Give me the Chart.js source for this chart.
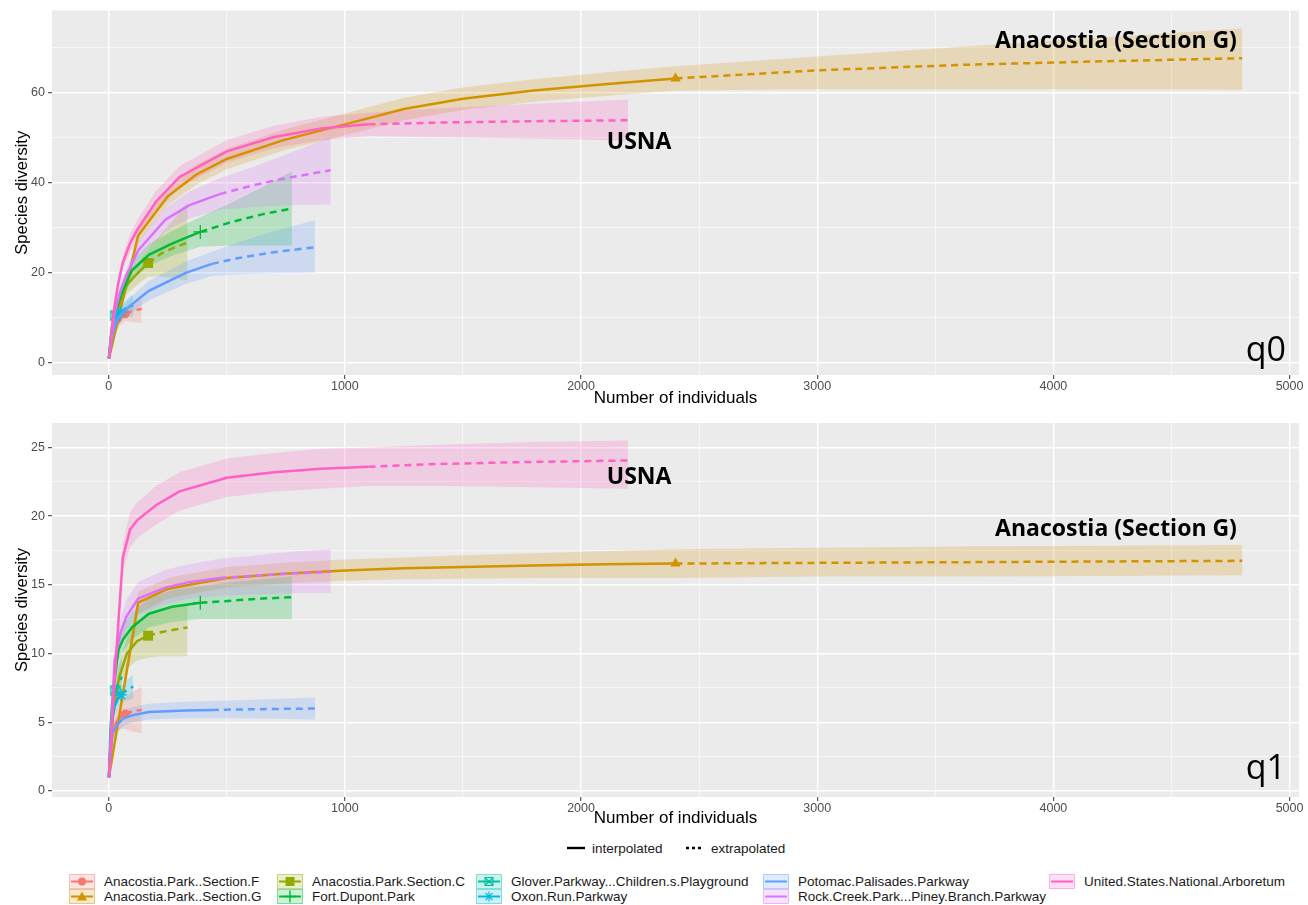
<!DOCTYPE html>
<html><head><meta charset="utf-8">
<script src="https://cdn.jsdelivr.net/npm/chart.js@4/dist/chart.umd.min.js"></script>
<style>
html,body{margin:0;padding:0;background:#fff;}
body{width:1308px;height:905px;position:relative;overflow:hidden;font-family:"Liberation Sans",Arial,sans-serif;}
#cv0{position:absolute;left:0;top:0;}
#cv1{position:absolute;left:0;top:410px;}
.lt{position:absolute;top:840px;height:16px;display:flex;align-items:center;font-size:13.5px;color:#1a1a1a;}
.lg{position:absolute;height:15px;display:flex;align-items:center;font-size:13.5px;color:#1a1a1a;white-space:nowrap;}
.lg svg{margin-right:9px;}
</style>
</head><body>
<canvas id="cv0" width="1308" height="410"></canvas>
<canvas id="cv1" width="1308" height="420"></canvas>
<div id="legend"></div>
<script>
// ---------------- data ----------------
const groupNames = ['Anacostia.Park..Section.F','Anacostia.Park..Section.G','Anacostia.Park.Section.C','Fort.Dupont.Park','Glover.Parkway...Children.s.Playground','Oxon.Run.Parkway','Potomac.Palisades.Parkway','Rock.Creek.Park...Piney.Branch.Parkway','United.States.National.Arboretum'];
const refSizes = [70, 2400, 167, 388, 28, 52, 437, 470, 1100];

const anaFX = [1, 15, 30, 50, 70, 100, 140];
const anaFQ0 = [1, 5.5, 8, 9.8, 10.9, 11.5, 12.0];
const anaFQ0Lo = [1, 4.5, 6.8, 8.4, 9.3, 9.1, 8.9];
const anaFQ0Hi = [1, 6.5, 9.2, 11.2, 12.5, 13.3, 14.2];
const anaFQ1 = [1, 4, 4.9, 5.4, 5.6, 5.8, 5.9];
const anaFQ1Lo = [1, 3.3, 4.1, 4.5, 4.5, 4.3, 4.2];
const anaFQ1Hi = [1, 4.8, 5.8, 6.4, 6.8, 7.2, 7.6];

const anaGX = [1, 125, 250, 370, 500, 740, 1000, 1250, 1500, 1800, 2100, 2400, 3000, 3600, 4200, 4800];
const anaGQ0 = [1, 28.3, 37, 41.8, 45.3, 49.5, 53.0, 56.4, 58.7, 60.5, 61.9, 63.2, 65.0, 66.2, 67.0, 67.7];
const anaGQ0Lo = [1, 26.7, 35, 39.6, 43.0, 47.2, 50.6, 53.9, 56.2, 58, 59.3, 60.5, 60.8, 60.8, 60.8, 60.7];
const anaGQ0Hi = [1, 29.9, 39, 44.0, 47.6, 51.8, 55.4, 58.9, 61.2, 63, 64.5, 65.9, 68.1, 70.2, 72.3, 74.3];
const anaGQ1 = [1, 13.7, 14.7, 15.1, 15.5, 15.8, 16.05, 16.2, 16.3, 16.4, 16.5, 16.55, 16.6, 16.65, 16.7, 16.75];
const anaGQ1Lo = [1, 12.9, 14, 14.4, 14.8, 15.1, 15.3, 15.4, 15.45, 15.5, 15.5, 15.5, 15.6, 15.6, 15.65, 15.7];
const anaGQ1Hi = [1, 14.5, 15.5, 15.9, 16.3, 16.6, 16.85, 17.0, 17.15, 17.3, 17.45, 17.6, 17.7, 17.8, 17.85, 17.9];

const anaCX = [1, 20, 45, 77, 120, 167, 220, 280, 334];
const anaCQ0 = [1, 8, 13, 17.3, 19.8, 22.2, 24.2, 25.7, 26.7];
const anaCQ0Lo = [1, 7, 11.5, 15.3, 17.3, 19.2, 19.2, 18.8, 18.3];
const anaCQ0Hi = [1, 9, 14.5, 19.3, 22.3, 25.2, 28.5, 32.2, 35.8];
const anaCQ1 = [1, 6, 8.3, 10.0, 10.9, 11.3, 11.55, 11.75, 11.9];
const anaCQ1Lo = [1, 5.3, 7.3, 8.9, 9.5, 9.7, 9.8, 9.8, 9.8];
const anaCQ1Hi = [1, 6.8, 9.3, 11.1, 12.3, 12.9, 13.2, 13.4, 13.6];

const fdX = [1, 20, 42, 60, 98, 170, 268, 388, 520, 650, 776];
const fdQ0 = [1, 9, 13.5, 16, 20.5, 24, 26.5, 29.1, 31.3, 33, 34.3];
const fdQ0Lo = [1, 8, 12, 14.3, 18.5, 21.6, 23.8, 25.8, 26.1, 26.1, 26.1];
const fdQ0Hi = [1, 10, 15, 17.7, 22.5, 26.4, 29.3, 32.4, 35.6, 39, 42.6];
const fdQ1 = [1, 7.5, 10.3, 11.0, 11.9, 12.9, 13.4, 13.7, 13.85, 14.0, 14.1];
const fdQ1Lo = [1, 6.8, 9.4, 10.1, 11, 11.9, 12.3, 12.5, 12.5, 12.5, 12.5];
const fdQ1Hi = [1, 8.3, 11.2, 12, 13, 14, 14.6, 14.9, 15.2, 15.4, 15.6];

const glX = [1, 7, 14, 21, 28, 42, 56];
const glQ0 = [1, 5, 8, 9.6, 10.5, 11.6, 12.3];
const glQ0Lo = [1, 4.2, 6.9, 8.2, 8.8, 9, 9.2];
const glQ0Hi = [1, 5.8, 9.1, 11, 12.2, 14, 15.4];
const glQ1 = [1, 4.3, 6.2, 6.9, 7.3, 7.9, 8.3];
const glQ1Lo = [1, 3.7, 5.4, 6, 6.3, 6.6, 6.8];
const glQ1Hi = [1, 4.9, 7, 7.8, 8.3, 9.2, 9.8];

const oxX = [1, 13, 26, 39, 52, 78, 104];
const oxQ0 = [1, 7, 9.5, 10.6, 11.3, 12.2, 12.8];
const oxQ0Lo = [1, 6, 8.2, 9.2, 9.8, 10.1, 10.3];
const oxQ0Hi = [1, 8, 10.8, 12, 12.8, 14.2, 15.2];
const oxQ1 = [1, 5, 6.2, 6.7, 7.0, 7.35, 7.6];
const oxQ1Lo = [1, 4.4, 5.6, 6.1, 6.4, 6.6, 6.7];
const oxQ1Hi = [1, 5.6, 6.8, 7.3, 7.6, 8.1, 8.5];

const poX = [1, 15, 35, 60, 98, 170, 326, 437, 550, 700, 874];
const poQ0 = [1, 6, 9.5, 11.2, 13, 16, 20, 22, 23.3, 24.6, 25.7];
const poQ0Lo = [1, 5, 8.2, 9.7, 11.2, 13.9, 17.5, 19.3, 19.7, 19.9, 20];
const poQ0Hi = [1, 7, 10.8, 12.7, 14.8, 18.2, 22.5, 24.7, 26.8, 29.3, 31.7];
const poQ1 = [1, 4.2, 4.8, 5.25, 5.5, 5.75, 5.85, 5.9, 5.93, 5.97, 6.0];
const poQ1Lo = [1, 3.6, 4.3, 4.7, 5, 5.2, 5.3, 5.3, 5.3, 5.25, 5.2];
const poQ1Hi = [1, 4.8, 5.4, 5.8, 6.1, 6.35, 6.5, 6.55, 6.6, 6.7, 6.8];

const rcX = [1, 25, 50, 75, 125, 240, 340, 470, 600, 700, 800, 940];
const rcQ0 = [1, 11, 16, 19.5, 25, 31.8, 35, 37.5, 39.3, 40.5, 41.5, 42.8];
const rcQ0Lo = [1, 10, 14.8, 18, 23, 29.2, 32, 34, 34.6, 34.9, 35.1, 35.2];
const rcQ0Hi = [1, 12, 17.3, 21, 27, 34.4, 38, 41, 43.3, 45.3, 47.3, 50.3];
const rcQ1 = [1, 9.5, 11.5, 12.7, 14.0, 14.8, 15.2, 15.5, 15.65, 15.75, 15.85, 15.95];
const rcQ1Lo = [1, 8.5, 10.5, 11.7, 12.8, 13.6, 14, 14.2, 14.3, 14.35, 14.4, 14.4];
const rcQ1Hi = [1, 10.5, 12.6, 13.9, 15.2, 16.1, 16.5, 16.9, 17.1, 17.3, 17.45, 17.6];

const usX = [1, 20, 40, 60, 90, 120, 200, 300, 500, 700, 900, 1100, 1400, 1800, 2200];
const usQ0 = [1, 11, 17.5, 22.3, 26.5, 29.5, 35.8, 41.3, 47.0, 50.2, 52.1, 53.0, 53.4, 53.7, 53.9];
const usQ0Lo = [1, 10, 16, 20.8, 24.5, 27.3, 33.4, 38.9, 44.5, 47.7, 49.5, 50.4, 50.2, 49.8, 49.4];
const usQ0Hi = [1, 12, 19, 23.8, 28.5, 31.7, 38.2, 43.7, 49.5, 52.7, 54.7, 55.6, 56.6, 57.6, 58.5];
const usQ1 = [1, 6.5, 12, 17.0, 19.0, 19.7, 20.8, 21.8, 22.8, 23.2, 23.45, 23.6, 23.8, 23.95, 24.05];
const usQ1Lo = [1, 6, 11, 16, 17.7, 18.4, 19.4, 20.4, 21.4, 21.8, 22.0, 22.2, 22.2, 22.1, 22.0];
const usQ1Hi = [1, 7, 13, 18, 20.3, 21, 22.2, 23.2, 24.2, 24.6, 24.9, 25.0, 25.2, 25.4, 25.5];

const xTickValues = [0, 1000, 2000, 3000, 4000, 5000];
const q0TickValues = [0, 20, 40, 60];
const q1TickValues = [0, 5, 10, 15, 20, 25];
const noteTexts = ['Anacostia (Section G)', 'USNA'];

// ---------------- styling ----------------
const groupColors = ['#F8766D','#D39200','#93AA00','#00BA38','#00C19F','#00B9E3','#619CFF','#DB72FB','#FF61C3'];
const groupShapes = ['circle','triangle','rect','cross','boxX','star',null,null,null];

function rgba(hex, a){const n=parseInt(hex.slice(1),16);return `rgba(${n>>16},${(n>>8)&255},${n&255},${a})`;}

function boxXCanvas(color){
  const c=document.createElement('canvas');c.width=13;c.height=13;const x=c.getContext('2d');
  x.strokeStyle=color;x.lineWidth=1.3;x.strokeRect(2,2,9,9);
  x.beginPath();x.moveTo(2,2);x.lineTo(11,11);x.moveTo(11,2);x.lineTo(2,11);x.stroke();return c;
}

const groups = [
  {x:anaFX,q0:anaFQ0,q0Lo:anaFQ0Lo,q0Hi:anaFQ0Hi,q1:anaFQ1,q1Lo:anaFQ1Lo,q1Hi:anaFQ1Hi},
  {x:anaGX,q0:anaGQ0,q0Lo:anaGQ0Lo,q0Hi:anaGQ0Hi,q1:anaGQ1,q1Lo:anaGQ1Lo,q1Hi:anaGQ1Hi},
  {x:anaCX,q0:anaCQ0,q0Lo:anaCQ0Lo,q0Hi:anaCQ0Hi,q1:anaCQ1,q1Lo:anaCQ1Lo,q1Hi:anaCQ1Hi},
  {x:fdX,q0:fdQ0,q0Lo:fdQ0Lo,q0Hi:fdQ0Hi,q1:fdQ1,q1Lo:fdQ1Lo,q1Hi:fdQ1Hi},
  {x:glX,q0:glQ0,q0Lo:glQ0Lo,q0Hi:glQ0Hi,q1:glQ1,q1Lo:glQ1Lo,q1Hi:glQ1Hi},
  {x:oxX,q0:oxQ0,q0Lo:oxQ0Lo,q0Hi:oxQ0Hi,q1:oxQ1,q1Lo:oxQ1Lo,q1Hi:oxQ1Hi},
  {x:poX,q0:poQ0,q0Lo:poQ0Lo,q0Hi:poQ0Hi,q1:poQ1,q1Lo:poQ1Lo,q1Hi:poQ1Hi},
  {x:rcX,q0:rcQ0,q0Lo:rcQ0Lo,q0Hi:rcQ0Hi,q1:rcQ1,q1Lo:rcQ1Lo,q1Hi:rcQ1Hi},
  {x:usX,q0:usQ0,q0Lo:usQ0Lo,q0Hi:usQ0Hi,q1:usQ1,q1Lo:usQ1Lo,q1Hi:usQ1Hi}
].map((g,i)=>Object.assign(g,{name:groupNames[i],n:refSizes[i],color:groupColors[i],shape:groupShapes[i]}));

const FONT = '"Liberation Sans", Arial, sans-serif';

const panelBg = {id:'panelBg', beforeDraw(chart){const {ctx,chartArea:a}=chart;ctx.save();ctx.fillStyle='#EBEBEB';ctx.fillRect(a.left,a.top,a.right-a.left,a.bottom-a.top);ctx.restore();}};
const notes = {id:'notes', afterDatasetsDraw(chart,args,opts){
  const {ctx,scales:{x,y}}=chart;
  (opts.items||[]).forEach(it=>{ctx.save();ctx.font=it.font;ctx.fillStyle='#000';ctx.textAlign=it.align||'center';ctx.textBaseline='middle';
    ctx.fillText(it.text,x.getPixelForValue(it.x),y.getPixelForValue(it.y));ctx.restore();});
}};

function pointStyleFor(g){
  if(g.shape==='boxX') return boxXCanvas(g.color);
  return g.shape||'circle';
}
function radiusFor(g){
  return {circle:4.5,triangle:6,rect:7,cross:7,boxX:6,star:6}[g.shape]||0;
}

function buildChart(id, q, yMin, yMax, yMinorStep, yTicks, padTop, xHeight, items){
  const datasets=[];
  groups.slice().reverse().forEach(g=>{
    const est=g[q], lo=g[q+'Lo'], hi=g[q+'Hi'];
    datasets.push({data:g.x.map((x,i)=>({x,y:lo[i]})),borderWidth:0,pointRadius:0,fill:false,order:2});
    datasets.push({data:g.x.map((x,i)=>({x,y:hi[i]})),borderWidth:0,pointRadius:0,fill:'-1',backgroundColor:rgba(g.color,0.22),order:2});
    const ps=pointStyleFor(g), r=radiusFor(g);
    datasets.push({data:g.x.map((x,i)=>({x,y:est[i]})),borderColor:g.color,borderWidth:2.5,fill:false,order:1,tension:0,
      pointStyle:ps,
      pointRadius:ctx=>(g.shape && g.x[ctx.dataIndex]===g.n)?r:0,
      pointHoverRadius:0,
      pointBackgroundColor:(g.shape==='boxX')?'rgba(0,0,0,0)':g.color,
      pointBorderColor:g.color,pointBorderWidth:(g.shape==='cross'||g.shape==='star')?1.3:0,
      segment:{borderDash:ctx=>(g.x[ctx.p0DataIndex]>=g.n)?[7,5]:undefined}});
  });
  const yMajor=new Set(yTicks);
  const yAll=[];for(let v=0;v<=yMax+1e-9;v+=yMinorStep)yAll.push(Math.round(v*100)/100);
  const xAll=[];for(let v=0;v<=5000;v+=500)xAll.push(v);
  const xMajor=new Set(xTickValues);
  return new Chart(document.getElementById(id),{
    type:'line',data:{datasets},
    plugins:[panelBg,notes],
    options:{responsive:false,animation:false,devicePixelRatio:1,
      layout:{padding:{top:padTop,right:9,left:0,bottom:0}},
      plugins:{legend:{display:false},tooltip:{enabled:false},notes:{items}},
      scales:{
        x:{type:'linear',min:-240,max:5040,
          afterBuildTicks:s=>{s.ticks=xAll.map(v=>({value:v}));},
          afterFit:s=>{s.height=xHeight;},
          ticks:{autoSkip:false,maxRotation:0,padding:0,color:'#4D4D4D',font:{family:FONT,size:12.5},callback:v=>xMajor.has(v)?String(v):''},
          grid:{color:'#FFFFFF',lineWidth:c=>(c.tick&&xMajor.has(c.tick.value))?1.4:0.6,
                tickColor:c=>(c.tick&&xMajor.has(c.tick.value))?'#333333':'rgba(0,0,0,0)',tickLength:4,tickWidth:1},
          border:{display:false},
          title:{display:true,text:'Number of individuals',color:'#000',font:{family:FONT,size:17},padding:{top:0,bottom:1}}},
        y:{type:'linear',min:yMin,max:yMax,
          afterBuildTicks:s=>{s.ticks=yAll.map(v=>({value:v}));},
          afterFit:s=>{s.width=52;},
          ticks:{autoSkip:false,padding:3,color:'#4D4D4D',font:{family:FONT,size:12.5},callback:v=>yMajor.has(v)?String(v):''},
          grid:{color:'#FFFFFF',lineWidth:c=>(c.tick&&yMajor.has(c.tick.value))?1.4:0.6,
                tickColor:c=>(c.tick&&yMajor.has(c.tick.value))?'#333333':'rgba(0,0,0,0)',tickLength:4,tickWidth:1},
          border:{display:false},
          title:{display:true,text:'Species diversity',color:'#000',font:{family:FONT,size:16.5},padding:{top:13,bottom:0}}}
      }}
  });
}

const bold='bold 23px "Open Sans", sans-serif';
const big='34px "Open Sans", sans-serif';
buildChart('cv0','q0',-2.7,78.3,10,q0TickValues,6,35,[
  {text:noteTexts[0],x:4265,y:71.5,font:bold},
  {text:noteTexts[1],x:2246,y:48.9,font:bold},
  {text:'q0',x:4985,y:2.6,font:big,align:'right'}]);
buildChart('cv1','q1',-0.44,26.78,2.5,q1TickValues,13,33,[
  {text:noteTexts[1],x:2246,y:22.8,font:bold},
  {text:noteTexts[0],x:4265,y:19.0,font:bold},
  {text:'q1',x:4985,y:1.6,font:big,align:'right'}]);

// ---------------- legend ----------------
const L=document.getElementById('legend');
function add(html,cls,left,top){const d=document.createElement('div');d.className=cls;d.style.left=left+'px';if(top!==undefined)d.style.top=top+'px';d.innerHTML=html;L.appendChild(d);}
add('<svg width="20" height="6"><line x1="1" y1="3" x2="19" y2="3" stroke="#000" stroke-width="2.4"/></svg><span style="margin-left:6px">interpolated</span>','lt',566);
add('<svg width="20" height="6"><line x1="1" y1="3" x2="19" y2="3" stroke="#000" stroke-width="2.4" stroke-dasharray="3,3"/></svg><span style="margin-left:6px">extrapolated</span>','lt',685);

function keySvg(g){
  const c=g.color;let m='';
  const cx=13,cy=7.5;
  switch(g.shape){
    case 'circle':m=`<circle cx="${cx}" cy="${cy}" r="4" fill="${c}"/>`;break;
    case 'triangle':m=`<polygon points="${cx},${cy-5} ${cx+5},${cy+4} ${cx-5},${cy+4}" fill="${c}"/>`;break;
    case 'rect':m=`<rect x="${cx-4.5}" y="${cy-4.5}" width="9" height="9" fill="${c}"/>`;break;
    case 'cross':m=`<path d="M${cx-6} ${cy}H${cx+6}M${cx} ${cy-6}V${cy+6}" stroke="${c}" stroke-width="1.4"/>`;break;
    case 'boxX':m=`<path d="M${cx-4} ${cy-4}h8v8h-8zM${cx-4} ${cy-4}l8 8M${cx+4} ${cy-4}l-8 8" stroke="${c}" stroke-width="1.1" fill="none"/>`;break;
    case 'star':m=`<path d="M${cx-5} ${cy}H${cx+5}M${cx} ${cy-5}V${cy+5}M${cx-3.5} ${cy-3.5}l7 7M${cx+3.5} ${cy-3.5}l-7 7" stroke="${c}" stroke-width="1.1"/>`;break;
  }
  return `<svg width="26" height="15"><rect x="0.5" y="0.5" width="25" height="14" fill="${rgba(c,0.2)}" stroke="${rgba(c,0.45)}" stroke-width="1"/><line x1="2" y1="${cy}" x2="24" y2="${cy}" stroke="${c}" stroke-width="2"/>${m}</svg>`;
}
const colLeft=[69,277,476,763,1049];
const rowTop=[874,889];
groups.forEach((g,i)=>{
  const col=[0,0,1,1,2,2,3,3,4][i], row=[0,1,0,1,0,1,0,1,0][i];
  add(keySvg(g)+'<span>'+g.name+'</span>','lg',colLeft[col],rowTop[row]);
});
</script>
</body></html>
